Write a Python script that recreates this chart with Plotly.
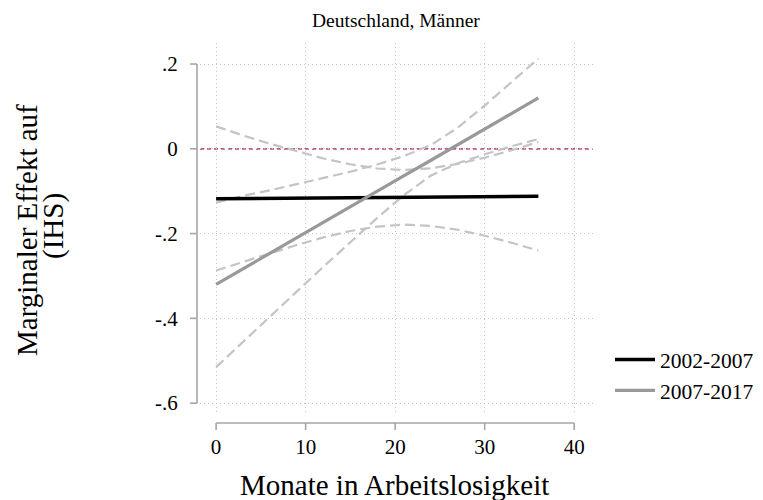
import plotly.graph_objects as go

# Monate in Arbeitslosigkeit (evaluation points)
months = [0, 3, 6, 9, 12, 15, 18, 21, 24, 27, 30, 33, 36]

# 2002-2007: marginal effect and 95% confidence band
eff_0207 = [-0.118, -0.1175, -0.117, -0.1165, -0.116, -0.1155, -0.115,
            -0.1145, -0.114, -0.1135, -0.113, -0.1125, -0.112]
hi_0207 = [0.053, 0.0315, 0.012, -0.006, -0.023, -0.0365, -0.0465,
           -0.050, -0.046, -0.0355, -0.021, -0.0035, 0.016]
lo_0207 = [-0.287, -0.2665, -0.246, -0.227, -0.209, -0.194, -0.1835,
           -0.179, -0.182, -0.191, -0.205, -0.2215, -0.240]

# 2007-2017: marginal effect and 95% confidence band
eff_0717 = [-0.320, -0.283, -0.247, -0.210, -0.173, -0.137, -0.100,
            -0.063, -0.027, 0.010, 0.047, 0.083, 0.120]
hi_0717 = [-0.127, -0.111, -0.098, -0.083, -0.068, -0.054, -0.037,
           -0.017, 0.009, 0.050, 0.102, 0.157, 0.213]
lo_0717 = [-0.515, -0.455, -0.396, -0.337, -0.278, -0.220, -0.163,
           -0.109, -0.063, -0.034, -0.013, 0.006, 0.023]

series_names = ["2002-2007", "2007-2017"]

x_ticks = [0, 10, 20, 30, 40]
y_ticks = [0.2, 0.0, -0.2, -0.4, -0.6]
y_tick_text = [".2", "0", "-.2", "-.4", "-.6"]

FONT = "Liberation Serif, Times New Roman, serif"
CI_COLOR = "#c4c4c4"
AXIS_COLOR = "#a6a6a6"
GRID_COLOR = "#c4c4c4"

# plot-area geometry in pixels (for placing the detached axes)
L, R, T, B = 200, 593, 43, 415
PW, PH = R - L, B - T


def px_x(p):
    return (p - L) / PW


def px_y(p):
    return (B - p) / PH


fig = go.Figure()

for band in (hi_0207, lo_0207, hi_0717, lo_0717):
    fig.add_trace(go.Scatter(
        x=months, y=band, mode="lines", showlegend=False, hoverinfo="skip",
        line=dict(color=CI_COLOR, width=2.2, dash="10px,5px"),
    ))

fig.add_trace(go.Scatter(
    x=months, y=eff_0207, mode="lines", name=series_names[0],
    line=dict(color="#000000", width=3.5),
))
fig.add_trace(go.Scatter(
    x=months, y=eff_0717, mode="lines", name=series_names[1],
    line=dict(color="#999999", width=3.2),
))

shapes = []
# zero reference line
shapes.append(dict(type="line", xref="paper", yref="y", x0=0, x1=1, y0=0, y1=0,
                   line=dict(color="#c4508c", width=1.7, dash="4px,3px"), layer="below"))
# detached y axis line and ticks
y_ax = px_x(197)
shapes.append(dict(type="line", xref="paper", yref="y", x0=y_ax, x1=y_ax,
                   y0=min(y_ticks), y1=max(y_ticks),
                   line=dict(color=AXIS_COLOR, width=1.6)))
for v in y_ticks:
    shapes.append(dict(type="line", xref="paper", yref="y", x0=px_x(190), x1=y_ax,
                       y0=v, y1=v, line=dict(color=AXIS_COLOR, width=1.6)))
# detached x axis line and ticks
x_ax = px_y(423)
shapes.append(dict(type="line", xref="x", yref="paper", x0=min(x_ticks), x1=max(x_ticks),
                   y0=x_ax, y1=x_ax, line=dict(color=AXIS_COLOR, width=1.6)))
for v in x_ticks:
    shapes.append(dict(type="line", xref="x", yref="paper", x0=v, x1=v,
                       y0=px_y(430), y1=x_ax, line=dict(color=AXIS_COLOR, width=1.6)))

annotations = [
    dict(text="Deutschland, Männer", xref="paper", yref="paper",
         x=px_x(396), y=px_y(20), xanchor="center", yanchor="middle", showarrow=False,
         font=dict(family=FONT, size=19.5, color="#000")),
    dict(text="Monate in Arbeitslosigkeit", xref="paper", yref="paper",
         x=px_x(394), y=px_y(485), xanchor="center", yanchor="middle", showarrow=False,
         font=dict(family=FONT, size=29, color="#000")),
    dict(text="Marginaler Effekt auf", xref="paper", yref="paper",
         x=px_x(27), y=px_y(230), xanchor="center", yanchor="middle",
         showarrow=False, textangle=-90,
         font=dict(family=FONT, size=29, color="#000")),
    dict(text="(IHS)", xref="paper", yref="paper",
         x=px_x(53), y=px_y(226), xanchor="center", yanchor="middle",
         showarrow=False, textangle=-90,
         font=dict(family=FONT, size=29, color="#000")),
]

fig.update_layout(
    width=763, height=500,
    margin=dict(l=L, r=763 - R, t=T, b=500 - B, pad=0, autoexpand=False),
    paper_bgcolor="white", plot_bgcolor="white",
    font=dict(family=FONT, color="#000"),
    shapes=shapes, annotations=annotations,
    legend=dict(x=px_x(610), y=px_y(339), xanchor="left", yanchor="top",
                font=dict(family=FONT, size=21.5), bgcolor="rgba(0,0,0,0)",
                tracegroupgap=0, itemwidth=40),
    showlegend=True,
)

fig.update_xaxes(
    range=[-1.8, 42.1], tickvals=x_ticks, ticktext=[str(v) for v in x_ticks],
    showgrid=True, griddash="1px,3px", gridcolor=GRID_COLOR, gridwidth=1,
    zeroline=False, showline=False,
    ticks="outside", ticklen=13, tickcolor="rgba(0,0,0,0)",
    tickfont=dict(family=FONT, size=21, color="#000"),
)
fig.update_yaxes(
    range=[-0.628, 0.2496], tickvals=y_ticks, ticktext=y_tick_text,
    showgrid=True, griddash="1px,3px", gridcolor=GRID_COLOR, gridwidth=1,
    zeroline=False, showline=False,
    ticks="outside", ticklen=17, tickcolor="rgba(0,0,0,0)",
    tickfont=dict(family=FONT, size=21, color="#000"),
)

fig.write_html("out.html")
